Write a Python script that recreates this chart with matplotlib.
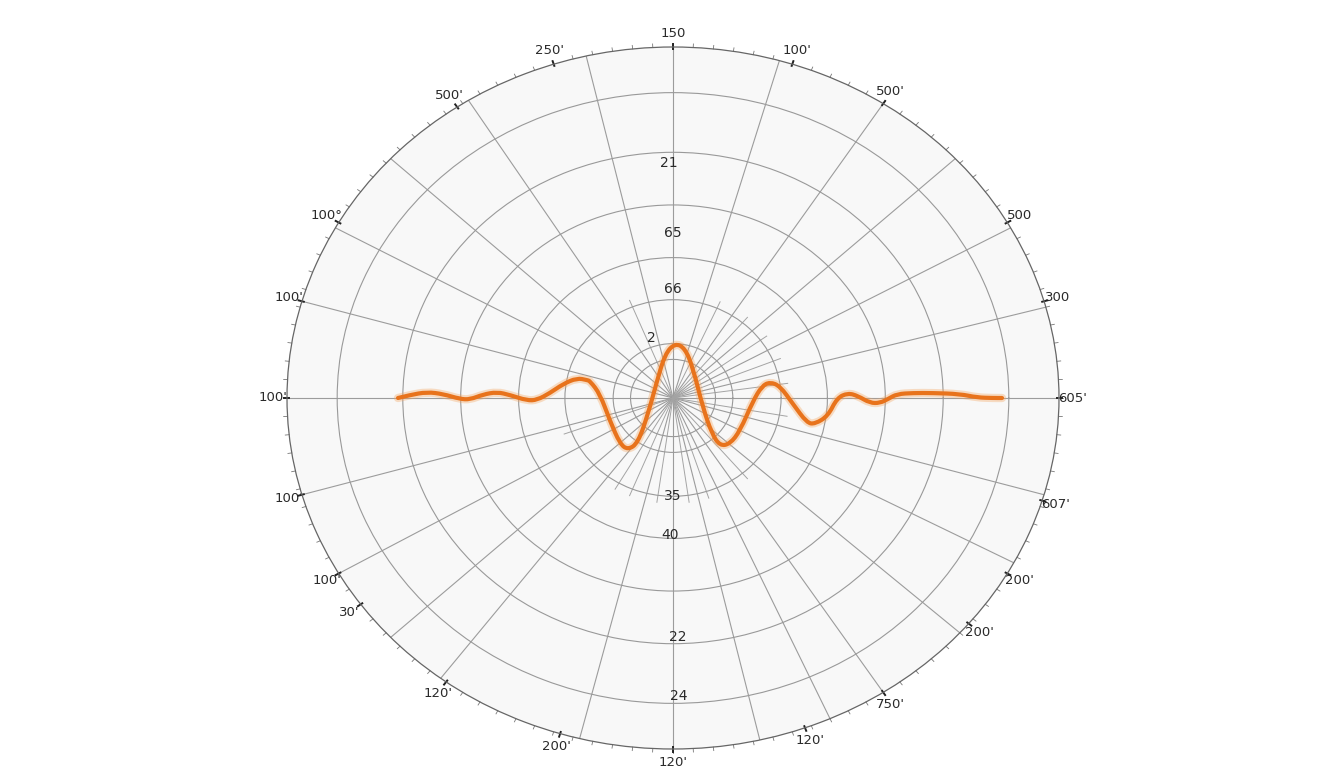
import numpy as np
import matplotlib
matplotlib.use('Agg')
from matplotlib import pyplot as plt
from matplotlib.path import Path
from matplotlib.patches import PathPatch

# rotulos angulares (graus)
theta_deg = [90, 72, 57, 30, 16, 0, -17, -30, -40, -57, -70, -90,
             -107, -126, -144, -150, -164, 180, 164, 150, 124, 108]
theta_lbl = ["150", "100'", "500'", "500", "300", "605'", "607'", "200'", "200'", "750'", "120'", "120'",
             "200'", "120'", "30'", "100'", "100'", "100'", "100'", "100°", "500'", "250'"]

# circulos da grade e rotulos radiais
anel_r = [0.11, 0.155, 0.28, 0.40, 0.55, 0.70, 0.87]
rad_lbl = ["2", "66", "65", "21", "35", "40", "22", "24"]
rad_pos = [(108, 0.18), (90, 0.31), (90, 0.47), (91, 0.67),
           (270, 0.28), (269, 0.39), (271, 0.68), (271, 0.85)]

# linhas radiais
raios_longos = [0, 15, 29, 43, 57, 74, 90, 103, 122, 137, 151, 164, 180,
                196, 210, 223, 233, 256, 270, 283, 294, 303, 318, 332, 344]
raios_curtos = [8, 22, 36, 50, 66, 112, 200, 240, 248, 262, 278, 288, 310, 350]

# curva (deslocamento horizontal, vertical a partir do centro)
onda_x = [-275, -263, -246, -230, -213, -203, -190, -176, -163, -146, -136, -123,
          -110, -96, -86, -83, -73, -63, -53, -45, -35, -25, -16, -8, 2, 12,
          20, 30, 39, 47, 57, 67, 80, 89, 97, 107, 120, 134, 142, 155, 164, 175,
          185, 197, 207, 215, 224, 240, 260, 287, 304, 320, 329]
onda_y = [0, 3, 6, 4, -1, -1.5, 3.5, 6, 3, -2.5, -2, 5, 14, 20, 18, 17, 4, -23,
          -46, -52, -45, -16, 17, 44, 55, 50, 30, -10, -36, -48, -46, -33, -3,
          12, 16, 12, -6, -25, -26, -18, 0, 5, 2, -5, -5, -1, 4, 5, 5, 4, 0.5, 0, 0]


def caminho_suave(xs, ys):
    # curvas quadraticas passando pelos pontos medios
    pts = list(zip(xs, ys))
    verts = [pts[0]]
    codes = [Path.MOVETO]
    for i in range(1, len(pts) - 1):
        meio = ((pts[i][0] + pts[i + 1][0]) / 2, (pts[i][1] + pts[i + 1][1]) / 2)
        verts += [pts[i], meio]
        codes += [Path.CURVE3, Path.CURVE3]
    verts.append(pts[-1])
    codes.append(Path.LINETO)
    return Path(verts, codes)


fig = plt.figure(figsize=(13.44, 7.68), dpi=100, facecolor='white')
rect = [287 / 1344, 19 / 768, 772 / 1344, 702 / 768]

ax = fig.add_axes(rect, projection='polar')
ax.set_aspect('auto')
ax.set_facecolor('#f8f8f8')
ax.set_ylim(0, 1)
ax.set_yticks(anel_r)
ax.set_yticklabels([])
ax.yaxis.grid(True, color='#999999', linewidth=0.8)
ax.xaxis.grid(False)
ax.spines['polar'].set_color('#666666')
ax.spines['polar'].set_linewidth(0.9)

ax.set_xticks(np.deg2rad(np.mod(theta_deg, 360)))
ax.set_xticklabels(theta_lbl, fontsize=9.5, color='#2a2a2a')
ax.tick_params(axis='x', which='major', length=0, pad=3)

for a in raios_longos:
    ax.plot([np.deg2rad(a)] * 2, [0, 1], color='#9c9c9c', lw=0.8, zorder=1)
for a in raios_curtos:
    ax.plot([np.deg2rad(a)] * 2, [0, 0.3], color='#a4a4a4', lw=0.7, zorder=1)

# marcas na borda
for a in np.arange(0, 360, 3):
    ax.plot([np.deg2rad(a)] * 2, [1.0, 1.01], color='#777777', lw=0.6,
            clip_on=False, zorder=2)
for a in theta_deg:
    ax.plot([np.deg2rad(a)] * 2, [0.995, 1.009], color='#222222', lw=1.4,
            clip_on=False, zorder=2)

for t, (a, r) in zip(rad_lbl, rad_pos):
    ax.text(np.deg2rad(a), r, t, fontsize=10, color='#2a2a2a',
            ha='center', va='center', zorder=3)

ax.set_xlim(0, 2 * np.pi)
ax.set_ylim(0, 1)

# eixo cartesiano por cima para a curva
cx = fig.add_axes(rect)
cx.set_xlim(-386, 386)
cx.set_ylim(-352, 352)
cx.axis('off')
cx.patch.set_alpha(0)
cx.add_patch(PathPatch(caminho_suave(onda_x, onda_y), facecolor='none',
                       edgecolor='#f5a35c', lw=6, alpha=0.35, capstyle='round'))
cx.add_patch(PathPatch(caminho_suave(onda_x, onda_y), facecolor='none',
                       edgecolor='#e8731c', lw=3, capstyle='round', joinstyle='round'))

fig.savefig('out.png', dpi=100, facecolor='white')
